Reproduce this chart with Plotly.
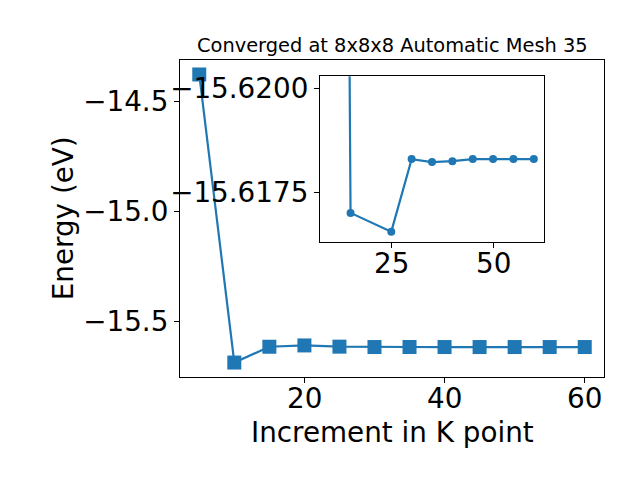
import plotly.graph_objects as go

# Main series
k_points = [5, 10, 15, 20, 25, 30, 35, 40, 45, 50, 55, 60]
energies = [-14.376, -15.689, -15.6170, -15.6110, -15.6166, -15.6183,
            -15.6182, -15.6183, -15.6183, -15.6183, -15.6183, -15.6183]

# Inset series (zoomed)
inset_k = [10, 15, 25, 30, 35, 40, 45, 50, 55, 60]
inset_e = [-15.689, -15.61701, -15.61656, -15.61830, -15.61823, -15.61825,
           -15.61830, -15.61830, -15.61830, -15.61830]

main_xticks = [20, 40, 60]
main_yticks = [-14.5, -15.0, -15.5]
main_yticklabels = ["\u221214.5", "\u221215.0", "\u221215.5"]
inset_xticks = [25, 50]
inset_yticks = [-15.6200, -15.6175]
inset_yticklabels = ["\u221215.6200", "\u221215.6175"]

title_text = "Converged at 8x8x8 Automatic Mesh 35"
xlabel = "Increment in K point"
ylabel = "Energy (eV)"

BLUE = "#1f77b4"
FONT = "DejaVu Sans"
W, H = 640, 480
OFF = 8  # page body margin

def fx(px):
    return (px - OFF) / W

def fy(py):
    return 1 - (py - OFF) / H

fig = go.Figure()
fig.add_trace(go.Scatter(
    x=k_points, y=energies, mode="lines+markers",
    line=dict(color=BLUE, width=2.2),
    marker=dict(symbol="square", size=14, color=BLUE),
    xaxis="x", yaxis="y", showlegend=False))
fig.add_trace(go.Scatter(
    x=inset_k, y=inset_e, mode="lines+markers",
    line=dict(color=BLUE, width=2.2),
    marker=dict(symbol="circle", size=8, color=BLUE),
    xaxis="x2", yaxis="y2", showlegend=False))

axis_common = dict(showline=True, mirror=True, linecolor="black", linewidth=1.1,
                   ticks="outside", ticklen=5, tickwidth=1.1, tickcolor="black",
                   showgrid=False, zeroline=False,
                   tickfont=dict(family=FONT, size=27.8, color="black"))

tickfont = dict(family=FONT, size=27.8, color="black")
annotations = [
    dict(text=title_text, x=fx(392), y=fy(42), xref="paper", yref="paper",
         showarrow=False, xanchor="center", yanchor="middle",
         font=dict(family=FONT, size=19.4, color="black")),
    dict(text=xlabel, x=fx(392), y=fy(432), xref="paper", yref="paper",
         showarrow=False, xanchor="center", yanchor="middle",
         font=dict(family=FONT, size=27.8, color="black")),
    dict(text=ylabel, x=fx(63), y=fy(216), xref="paper", yref="paper",
         showarrow=False, xanchor="center", yanchor="middle", textangle=-90,
         font=dict(family=FONT, size=27.8, color="black")),
]
for v in main_xticks:
    annotations.append(dict(text=str(v), x=v, xref="x", y=fy(398), yref="paper",
                            showarrow=False, xanchor="center", yanchor="middle",
                            font=tickfont))
for v in inset_xticks:
    annotations.append(dict(text=str(v), x=v, xref="x2", y=fy(262), yref="paper",
                            showarrow=False, xanchor="center", yanchor="middle",
                            font=tickfont))

fig.update_layout(
    width=W, height=H,
    margin=dict(l=0, r=0, t=0, b=0),
    paper_bgcolor="white", plot_bgcolor="white",
    xaxis=dict(domain=[fx(180), fx(604)], range=[2.25, 62.75],
               tickvals=main_xticks, anchor="y", showticklabels=False,
               **axis_common),
    yaxis=dict(domain=[fy(376), fy(56.5)], range=[-15.7546, -14.3104],
               tickvals=main_yticks, ticktext=main_yticklabels, anchor="x",
               **axis_common),
    xaxis2=dict(domain=[fx(320), fx(544)], range=[7.5, 62.5],
                tickvals=inset_xticks, anchor="y2", showticklabels=False,
                **axis_common),
    yaxis2=dict(domain=[fy(240), fy(72.7)], range=[-15.61631, -15.62029],
                tickvals=inset_yticks, ticktext=inset_yticklabels, anchor="x2",
                **axis_common),
    annotations=annotations,
)

fig.write_html("out.html")
